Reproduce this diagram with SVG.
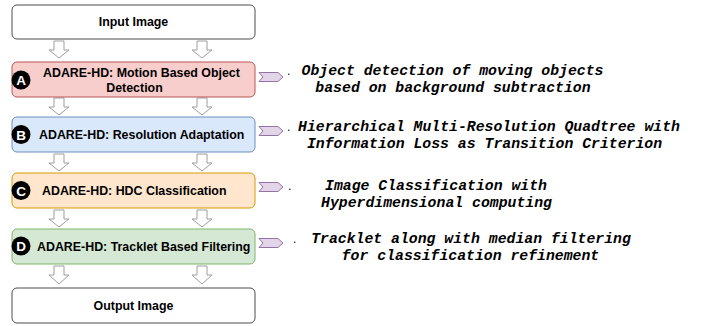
<svg xmlns="http://www.w3.org/2000/svg" width="701" height="326" viewBox="0 0 701 326">
<defs>
<style>
.box{stroke-width:1}
.lbl{font-family:"Liberation Sans",Arial,sans-serif;font-weight:bold;font-size:12.4px;fill:#000}
.badge{fill:#000}
.bl{font-family:"Liberation Sans",Arial,sans-serif;font-weight:bold;font-size:13.5px;fill:#fff;text-anchor:middle}
.arr{fill:#fff;stroke:#9e9e9e;stroke-width:1}
.chev{fill:#e1d5e7;stroke:#9673a6;stroke-width:1}
.desc{font-family:"Liberation Mono","Courier New",monospace;font-weight:bold;font-style:italic;font-size:14.8px;fill:#000;text-anchor:middle}
.dot{font-family:"Liberation Sans",Arial,sans-serif;font-size:12px;fill:#000}
</style>
</defs>
<g id="connectors">
<polygon class="arr" points="54,41 64,41 64,50 69,50 59,58 49,50 54,50"/>
<polygon class="arr" points="197,41 207,41 207,50 212,50 202,58 192,50 197,50"/>
<polygon class="arr" points="54,98 64,98 64,107 69,107 59,115 49,107 54,107"/>
<polygon class="arr" points="197,98 207,98 207,107 212,107 202,115 192,107 197,107"/>
<polygon class="arr" points="54,154 64,154 64,163 69,163 59,171 49,163 54,163"/>
<polygon class="arr" points="197,154 207,154 207,163 212,163 202,171 192,163 197,163"/>
<polygon class="arr" points="54,210 64,210 64,219 69,219 59,227 49,219 54,219"/>
<polygon class="arr" points="197,210 207,210 207,219 212,219 202,227 192,219 197,219"/>
<polygon class="arr" points="54,266 64,266 64,275 69,275 59,284 49,275 54,275"/>
<polygon class="arr" points="197,266 207,266 207,275 212,275 202,284 192,275 197,275"/>
<polygon class="chev" points="259,72.5 278,72.5 283,77 278,81.5 259,81.5 263,77"/>
<polygon class="chev" points="259,126.5 278,126.5 283,131 278,135.5 259,135.5 263,131"/>
<polygon class="chev" points="259,182.5 278,182.5 283,187 278,191.5 259,191.5 263,187"/>
<polygon class="chev" points="259,238.5 278,238.5 283,243 278,247.5 259,247.5 263,243"/>
</g>
<g id="input">
<rect class="box" x="12" y="5" width="243" height="34" rx="5" fill="#fff" stroke="#4d4d4d"/>
<text class="lbl" x="133.5" y="26" text-anchor="middle">Input Image</text>
</g>
<g id="stepA">
<rect class="box" x="12" y="62" width="243" height="35" rx="5" fill="#f8cecc" stroke="#b85450"/>
<circle class="badge" cx="21" cy="80" r="9.5"/>
<text class="bl" x="21" y="85">A</text>
<text class="lbl" x="43" y="77">ADARE-HD: Motion Based Object</text>
<text class="lbl" x="134.5" y="92" text-anchor="middle">Detection</text>
</g>
<g id="stepB">
<rect class="box" x="12" y="117" width="243" height="35" rx="5" fill="#dae8fc" stroke="#6c8ebf"/>
<circle class="badge" cx="21" cy="134.5" r="9.5"/>
<text class="bl" x="21" y="139.5">B</text>
<text class="lbl" x="39" y="139">ADARE-HD: Resolution Adaptation</text>
</g>
<g id="stepC">
<rect class="box" x="12" y="173" width="243" height="35" rx="5" fill="#ffe6cc" stroke="#d79b00"/>
<circle class="badge" cx="21" cy="190.5" r="9.5"/>
<text class="bl" x="21" y="195.5">C</text>
<text class="lbl" x="42" y="195">ADARE-HD: HDC Classification</text>
</g>
<g id="stepD">
<rect class="box" x="12" y="229" width="243" height="35" rx="5" fill="#d5e8d4" stroke="#82b366"/>
<circle class="badge" cx="21" cy="246" r="9.5"/>
<text class="bl" x="21" y="251">D</text>
<text class="lbl" x="37" y="251">ADARE-HD: Tracklet Based Filtering</text>
</g>
<g id="output">
<rect class="box" x="12" y="288" width="243" height="35" rx="5" fill="#fff" stroke="#4d4d4d"/>
<text class="lbl" x="133.5" y="310" text-anchor="middle">Output Image</text>
</g>
<g id="descA">
<text class="dot" x="287" y="75">.</text>
<text class="desc" x="452.5" y="75">Object detection of moving objects</text>
<text class="desc" x="453" y="92">based on background subtraction</text>
</g>
<g id="descB">
<text class="dot" x="287" y="131">.</text>
<text class="desc" x="489" y="131">Hierarchical Multi-Resolution Quadtree with</text>
<text class="desc" x="484.5" y="148">Information Loss as Transition Criterion</text>
</g>
<g id="descC">
<text class="dot" x="288" y="190">.</text>
<text class="desc" x="436" y="190">Image Classification with</text>
<text class="desc" x="436.5" y="207">Hyperdimensional computing</text>
</g>
<g id="descD">
<text class="dot" x="293" y="243">.</text>
<text class="desc" x="471" y="243">Tracklet along with median filtering</text>
<text class="desc" x="470.5" y="260">for classification refinement</text>
</g>
</svg>
